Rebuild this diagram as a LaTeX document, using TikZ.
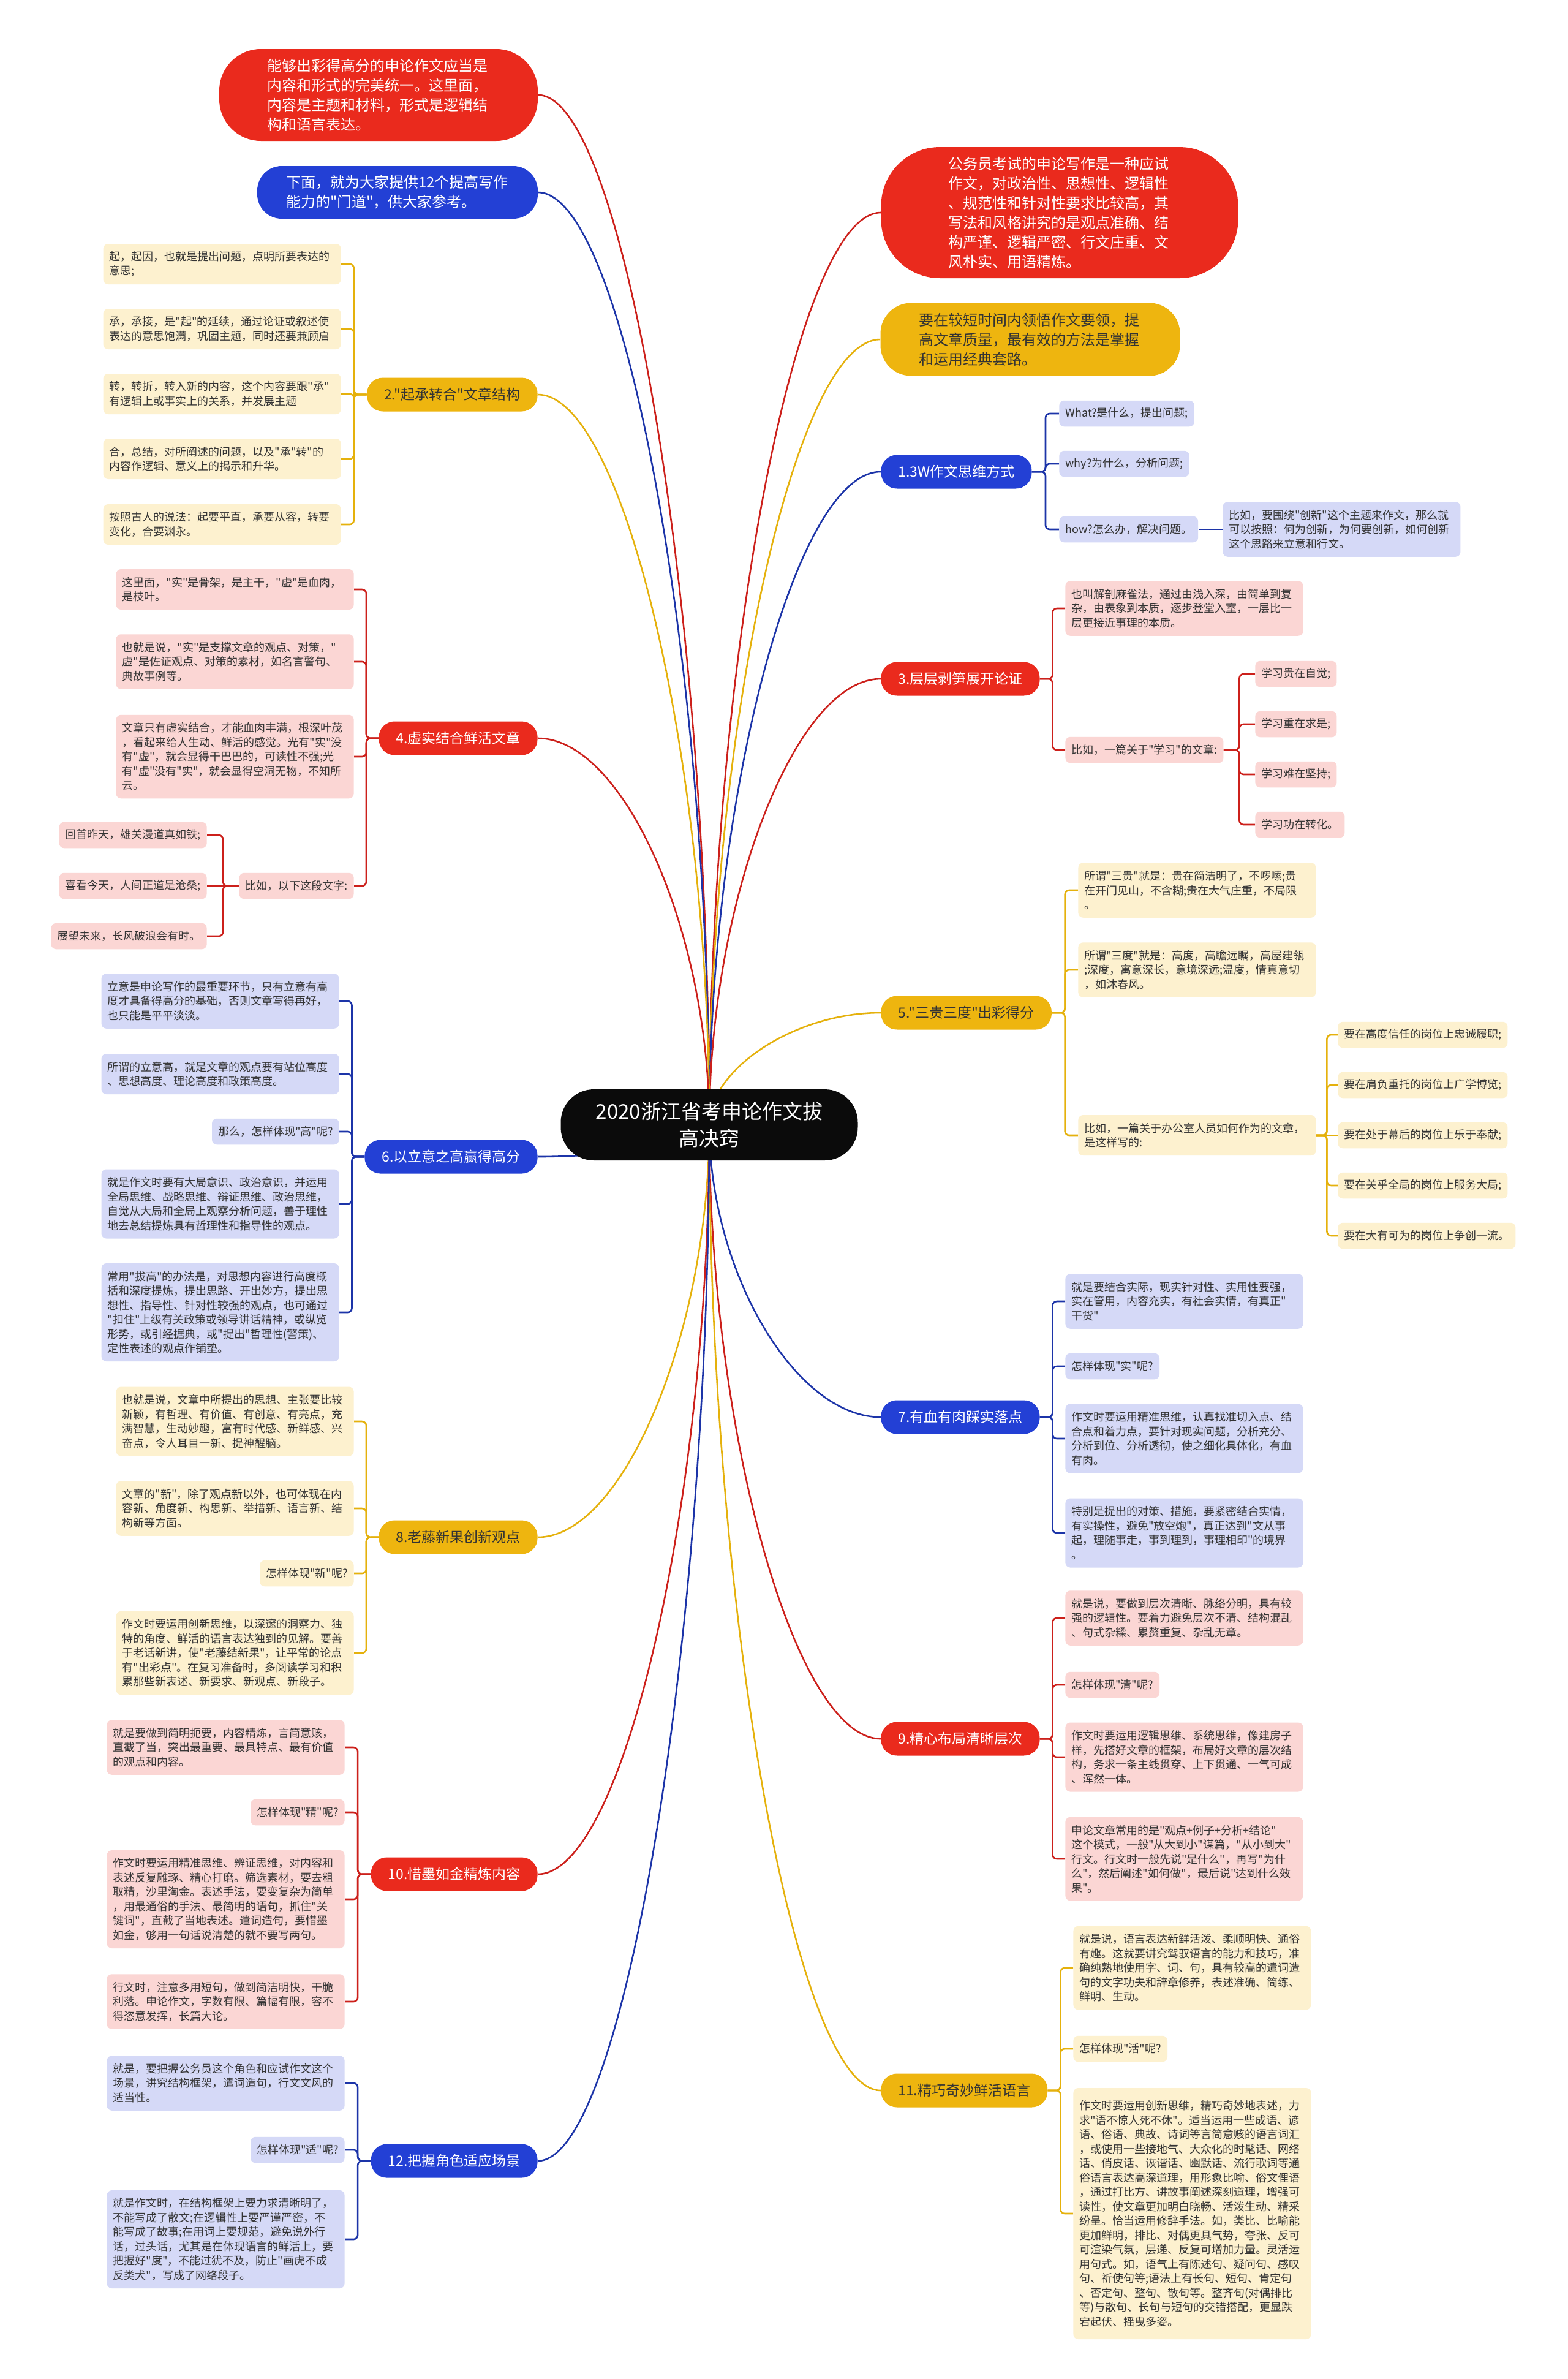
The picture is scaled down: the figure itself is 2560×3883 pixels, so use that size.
\documentclass[tikz,border=0pt]{standalone}
\usepackage{fontspec}
\setmainfont{Noto Sans CJK SC}[Ligatures=TeXOff]
\usetikzlibrary{calc}
\definecolor{redB}{HTML}{EA2A1D}
\definecolor{redL}{HTML}{FBD6D4}
\definecolor{redLn}{HTML}{CC201B}
\definecolor{blueB}{HTML}{2340D5}
\definecolor{blueL}{HTML}{D5D9F7}
\definecolor{blueLn}{HTML}{1C34A8}
\definecolor{yelB}{HTML}{EEB50F}
\definecolor{yelL}{HTML}{FDF1CF}
\definecolor{yelLn}{HTML}{E5B10C}
\definecolor{ctrB}{HTML}{0B0B0B}
\definecolor{txt}{HTML}{333333}
\pgfdeclarelayer{back}
\pgfdeclarelayer{bg}
\pgfsetlayers{back,bg,main}
\tikzset{
  leaf/.style={font=\fontsize{9}{11.75}\selectfont, text=txt, align=left, inner xsep=5pt, inner ysep=0pt, rounded corners=4pt, minimum height=21.25pt},
  wl/.style={text width=184pt},
  nl/.style={minimum height={9.5pt+11.75pt*#1}},
  rl/.style={leaf, fill=redL},
  bl/.style={leaf, fill=blueL},
  yl/.style={leaf, fill=yelL},
  branch/.style={font=\fontsize{11.5}{14}\selectfont, inner xsep=14pt, inner ysep=0pt, minimum height=27.5pt, rounded corners=13pt},
  rb/.style={branch, fill=redB, text=white},
  bb/.style={branch, fill=blueB, text=white},
  yb/.style={branch, fill=yelB, text=txt},
  topn/.style={font=\fontsize{12}{16}\selectfont, align=left, text width=182pt, inner sep=0pt},
  rline/.style={draw=redLn, line width=1.3pt, rounded corners=3.5pt},
  bline/.style={draw=blueLn, line width=1.3pt, rounded corners=3.5pt},
  yline/.style={draw=yelLn, line width=1.3pt, rounded corners=3.5pt}
}
\newcommand\mlink[3]{\draw[#1] (ctr.center) .. controls ($(ctr.center)!0.5!(ctr.center |- #2.#3)$) and ($(#2.#3)!0.5!(ctr.center |- #2.#3)$) .. (#2.#3);}
\newcommand\rlink[3]{\draw[#1] (#2.east) -- ($(#2.east)!0.5!(#2.east -| #3.west)$) |- (#3.west);}
\newcommand\llink[3]{\draw[#1] (#2.west) -- ($(#2.west)!0.5!(#2.west -| #3.east)$) |- (#3.east);}
\begin{document}
\begin{tikzpicture}[x=0.5pt, y=-0.5pt]
\begin{pgfonlayer}{back}
\fill[white] (0,0) rectangle (2560,3883);
\end{pgfonlayer}
\useasboundingbox (0,0) rectangle (2560,3883);

% centre
\node[fill=ctrB, text=white, font=\fontsize{16.5}{22}\selectfont, align=center, minimum width=242.5pt, minimum height=58pt, rounded corners=27pt] (ctr) at (1158,1836) {2020浙江省考申论作文拔\\高决窍};

% top nodes
\node[topn, fill=redB, text=white, minimum width=260pt, minimum height=75pt, rounded corners=34pt] (na) at (618,155) {能够出彩得高分的申论作文应当是\\内容和形式的完美统一。这里面，\\内容是主题和材料，形式是逻辑结\\构和语言表达。};
\node[topn, fill=blueB, text=white, minimum width=229pt, minimum height=43pt, rounded corners=20pt] (nb) at (649,314) {下面，就为大家提供12个提高写作\\能力的"门道"，供大家参考。};
\node[topn, fill=redB, text=white, minimum width=291.5pt, minimum height=107pt, rounded corners=48pt] (nc) at (1730,347) {公务员考试的申论写作是一种应试\\作文，对政治性、思想性、逻辑性\\、规范性和针对性要求比较高，其\\写法和风格讲究的是观点准确、结\\构严谨、逻辑严密、行文庄重、文\\风朴实、用语精炼。};
\node[topn, fill=yelB, text=txt, minimum width=244.5pt, minimum height=59.5pt, rounded corners=25pt] (nd) at (1682,554) {要在较短时间内领悟作文要领，提\\高文章质量，最有效的方法是掌握\\和运用经典套路。};

% right branches
\node[bb, anchor=west] (b1) at (1438,770) {1.3W作文思维方式};
\node[rb, anchor=west] (b3) at (1438,1108) {3.层层剥笋展开论证};
\node[yb, anchor=west] (b5) at (1438,1653) {5."三贵三度"出彩得分};
\node[bb, anchor=west] (b7) at (1438,2313) {7.有血有肉踩实落点};
\node[rb, anchor=west] (b9) at (1438,2838) {9.精心布局清晰层次};
\node[yb, anchor=west] (b11) at (1438,3412) {11.精巧奇妙鲜活语言};
% left branches
\node[yb, anchor=east] (b2) at (878,644) {2."起承转合"文章结构};
\node[rb, anchor=east] (b4) at (878,1205) {4.虚实结合鲜活文章};
\node[bb, anchor=east] (b6) at (878,1888) {6.以立意之高赢得高分};
\node[yb, anchor=east] (b8) at (878,2509) {8.老藤新果创新观点};
\node[rb, anchor=east] (b10) at (878,3059) {10.惜墨如金精炼内容};
\node[bb, anchor=east] (b12) at (878,3527) {12.把握角色适应场景};

% b1 leaves
\node[bl, anchor=west] (l1a) at (1729,675) {What?是什么，提出问题;};
\node[bl, anchor=west] (l1b) at (1729,757) {why?为什么，分析问题;};
\node[bl, anchor=west] (l1c) at (1729,864) {how?怎么办，解决问题。};
\node[bl, wl, nl=3, anchor=west] (l1d) at (1996,864) {比如，要围绕"创新"这个主题来作文，那么就\\可以按照：何为创新，为何要创新，如何创新\\这个思路来立意和行文。};

% b3 leaves
\node[rl, wl, nl=3, anchor=west] (l3a) at (1739,993) {也叫解剖麻雀法，通过由浅入深，由简单到复\\杂，由表象到本质，逐步登堂入室，一层比一\\层更接近事理的本质。};
\node[rl, anchor=west] (l3b) at (1739,1224) {比如，一篇关于"学习"的文章:};
\node[rl, anchor=west] (l3k1) at (2049,1100) {学习贵在自觉;};
\node[rl, anchor=west] (l3k2) at (2049,1182) {学习重在求是;};
\node[rl, anchor=west] (l3k3) at (2049,1264) {学习难在坚持;};
\node[rl, anchor=west] (l3k4) at (2049,1346) {学习功在转化。};

% b5 leaves
\node[yl, wl, nl=3, anchor=west] (l5a) at (1760,1453) {所谓"三贵"就是：贵在简洁明了，不啰嗦;贵\\在开门见山，不含糊;贵在大气庄重，不局限\\。};
\node[yl, wl, nl=3, anchor=west] (l5b) at (1760,1583) {所谓"三度"就是：高度，高瞻远瞩，高屋建瓴\\;深度，寓意深长，意境深远;温度，情真意切\\，如沐春风。};
\node[yl, wl, nl=2, anchor=west] (l5c) at (1760,1853) {比如，一篇关于办公室人员如何作为的文章，\\是这样写的:};
\node[yl, anchor=west] (l5k1) at (2184,1689) {要在高度信任的岗位上忠诚履职;};
\node[yl, anchor=west] (l5k2) at (2184,1771) {要在肩负重托的岗位上广学博览;};
\node[yl, anchor=west] (l5k3) at (2184,1853) {要在处于幕后的岗位上乐于奉献;};
\node[yl, anchor=west] (l5k4) at (2184,1935) {要在关乎全局的岗位上服务大局;};
\node[yl, anchor=west] (l5k5) at (2184,2017) {要在大有可为的岗位上争创一流。};

% b7 leaves
\node[bl, wl, nl=3, anchor=west] (l7a) at (1739,2124) {就是要结合实际，现实针对性、实用性要强，\\实在管用，内容充实，有社会实情，有真正"\\干货"};
\node[bl, anchor=west] (l7b) at (1739,2230) {怎样体现"实"呢?};
\node[bl, wl, nl=4, anchor=west] (l7c) at (1739,2348) {作文时要运用精准思维，认真找准切入点、结\\合点和着力点，要针对现实问题，分析充分、\\分析到位、分析透彻，使之细化具体化，有血\\有肉。};
\node[bl, wl, nl=4, anchor=west] (l7d) at (1739,2502) {特别是提出的对策、措施，要紧密结合实情，\\有实操性，避免"放空炮"，真正达到"文从事\\起，理随事走，事到理到，事理相印"的境界\\。};

% b9 leaves
\node[rl, wl, nl=3, anchor=west] (l9a) at (1739,2641) {就是说，要做到层次清晰、脉络分明，具有较\\强的逻辑性。要着力避免层次不清、结构混乱\\、句式杂糅、累赘重复、杂乱无章。};
\node[rl, anchor=west] (l9b) at (1739,2750) {怎样体现"清"呢?};
\node[rl, wl, nl=4, anchor=west] (l9c) at (1739,2868) {作文时要运用逻辑思维、系统思维，像建房子\\样，先搭好文章的框架，布局好文章的层次结\\构，务求一条主线贯穿、上下贯通、一气可成\\、浑然一体。};
\node[rl, wl, nl=5, anchor=west] (l9d) at (1739,3034) {申论文章常用的是"观点+例子+分析+结论"\\这个模式，一般"从大到小"谋篇，"从小到大"\\行文。行文时一般先说"是什么"，再写"为什\\么"，然后阐述"如何做"，最后说"达到什么效\\果"。};

% b11 leaves
\node[yl, wl, nl=5, anchor=west] (l11a) at (1752,3212) {就是说，语言表达新鲜活泼、柔顺明快、通俗\\有趣。这就要讲究驾驭语言的能力和技巧，准\\确纯熟地使用字、词、句，具有较高的遣词造\\句的文字功夫和辞章修养，表述准确、简练、\\鲜明、生动。};
\node[yl, anchor=west] (l11b) at (1752,3344) {怎样体现"活"呢?};
\node[yl, wl, minimum height=205pt, anchor=west] (l11c) at (1752,3613) {作文时要运用创新思维，精巧奇妙地表述，力\\求"语不惊人死不休"。适当运用一些成语、谚\\语、俗语、典故、诗词等言简意赅的语言词汇\\，或使用一些接地气、大众化的时髦话、网络\\话、俏皮话、诙谐话、幽默话、流行歌词等通\\俗语言表达高深道理，用形象比喻、俗文俚语\\，通过打比方、讲故事阐述深刻道理，增强可\\读性，使文章更加明白晓畅、活泼生动、精采\\纷呈。恰当运用修辞手法。如，类比、比喻能\\更加鲜明，排比、对偶更具气势，夸张、反可\\可渲染气氛，层递、反复可增加力量。灵活运\\用句式。如，语气上有陈述句、疑问句、感叹\\句、祈使句等;语法上有长句、短句、肯定句\\、否定句、整句、散句等。整齐句(对偶排比\\等)与散句、长句与短句的交错搭配，更显跌\\宕起伏、摇曳多姿。};

% b2 leaves
\node[yl, wl, nl=2, anchor=east] (l2a) at (557,431) {起，起因，也就是提出问题，点明所要表达的\\意思;};
\node[yl, wl, nl=2, anchor=east] (l2b) at (557,537) {承，承接，是"起"的延续，通过论证或叙述使\\表达的意思饱满，巩固主题，同时还要兼顾启};
\node[yl, wl, nl=2, anchor=east] (l2c) at (557,643) {转，转折，转入新的内容，这个内容要跟"承"\\有逻辑上或事实上的关系，并发展主题};
\node[yl, wl, nl=2, anchor=east] (l2d) at (557,749) {合，总结，对所阐述的问题，以及"承"转"的\\内容作逻辑、意义上的揭示和升华。};
\node[yl, wl, nl=2, anchor=east] (l2e) at (557,856) {按照古人的说法：起要平直，承要从容，转要\\变化，合要渊永。};

% b4 leaves
\node[rl, wl, nl=2, anchor=east] (l4a) at (578,962) {这里面，"实"是骨架，是主干，"虚"是血肉，\\是枝叶。};
\node[rl, wl, nl=3, anchor=east] (l4b) at (578,1080) {也就是说，"实"是支撑文章的观点、对策，"\\虚"是佐证观点、对策的素材，如名言警句、\\典故事例等。};
\node[rl, wl, nl=5, anchor=east] (l4c) at (578,1235) {文章只有虚实结合，才能血肉丰满，根深叶茂\\，看起来给人生动、鲜活的感觉。光有"实"没\\有"虚"，就会显得干巴巴的，可读性不强;光\\有"虚"没有"实"，就会显得空洞无物，不知所\\云。};
\node[rl, anchor=east] (l4d) at (578,1446) {比如，以下这段文字:};
\node[rl, anchor=east] (l4k1) at (338,1363) {回首昨天，雄关漫道真如铁;};
\node[rl, anchor=east] (l4k2) at (338,1446) {喜看今天，人间正道是沧桑;};
\node[rl, anchor=east] (l4k3) at (338,1528) {展望未来，长风破浪会有时。};

% b6 leaves
\node[bl, wl, nl=3, anchor=east] (l6a) at (554,1634) {立意是申论写作的最重要环节，只有立意有高\\度才具备得高分的基础，否则文章写得再好，\\也只能是平平淡淡。};
\node[bl, wl, nl=2, anchor=east] (l6b) at (554,1753) {所谓的立意高，就是文章的观点要有站位高度\\、思想高度、理论高度和政策高度。};
\node[bl, anchor=east] (l6c) at (554,1847) {那么，怎样体现"高"呢?};
\node[bl, wl, nl=4, anchor=east] (l6d) at (554,1965) {就是作文时要有大局意识、政治意识，并运用\\全局思维、战略思维、辩证思维、政治思维，\\自觉从大局和全局上观察分析问题，善于理性\\地去总结提炼具有哲理性和指导性的观点。};
\node[bl, wl, nl=6, anchor=east] (l6e) at (554,2142) {常用"拔高"的办法是，对思想内容进行高度概\\括和深度提炼，提出思路、开出妙方，提出思\\想性、指导性、针对性较强的观点，也可通过\\"扣住"上级有关政策或领导讲话精神，或纵览\\形势，或引经据典，或"提出"哲理性(警策)、\\定性表述的观点作铺垫。};

% b8 leaves
\node[yl, wl, nl=4, anchor=east] (l8a) at (578,2320) {也就是说，文章中所提出的思想、主张要比较\\新颖，有哲理、有价值、有创意、有亮点，充\\满智慧，生动妙趣，富有时代感、新鲜感、兴\\奋点，令人耳目一新、提神醒脑。};
\node[yl, wl, nl=3, anchor=east] (l8b) at (578,2462) {文章的"新"，除了观点新以外，也可体现在内\\容新、角度新、构思新、举措新、语言新、结\\构新等方面。};
\node[yl, anchor=east] (l8c) at (578,2568) {怎样体现"新"呢?};
\node[yl, wl, nl=5, anchor=east] (l8d) at (578,2698) {作文时要运用创新思维，以深邃的洞察力、独\\特的角度、鲜活的语言表达独到的见解。要善\\于老话新讲，使"老藤结新果"，让平常的论点\\有"出彩点"。在复习准备时，多阅读学习和积\\累那些新表述、新要求、新观点、新段子。};

% b10 leaves
\node[rl, wl, nl=3, anchor=east] (l10a) at (563,2852) {就是要做到简明扼要，内容精炼，言简意赅，\\直截了当，突出最重要、最具特点、最有价值\\的观点和内容。};
\node[rl, anchor=east] (l10b) at (563,2958) {怎样体现"精"呢?};
\node[rl, wl, nl=6, anchor=east] (l10c) at (563,3100) {作文时要运用精准思维、辨证思维，对内容和\\表述反复雕琢、精心打磨。筛选素材，要去粗\\取精，沙里淘金。表述手法，要变复杂为简单\\，用最通俗的手法、最简明的语句，抓住"关\\键词"，直截了当地表述。遣词造句，要惜墨\\如金，够用一句话说清楚的就不要写两句。};
\node[rl, wl, nl=3, anchor=east] (l10d) at (563,3267) {行文时，注意多用短句，做到简洁明快，干脆\\利落。申论作文，字数有限、篇幅有限，容不\\得恣意发挥，长篇大论。};

% b12 leaves
\node[bl, wl, nl=3, anchor=east] (l12a) at (563,3400) {就是，要把握公务员这个角色和应试作文这个\\场景，讲究结构框架，遣词造句，行文文风的\\适当性。};
\node[bl, anchor=east] (l12b) at (563,3509) {怎样体现"适"呢?};
\node[bl, wl, nl=6, anchor=east] (l12c) at (563,3655) {就是作文时，在结构框架上要力求清晰明了，\\不能写成了散文;在逻辑性上要严谨严密，不\\能写成了故事;在用词上要规范，避免说外行\\话，过头话，尤其是在体现语言的鲜活上，要\\把握好"度"，不能过犹不及，防止"画虎不成\\反类犬"，写成了网络段子。};

\begin{pgfonlayer}{bg}
% main connectors
\mlink{rline}{na}{east}
\mlink{bline}{nb}{east}
\mlink{rline}{nc}{west}
\mlink{yline}{nd}{west}
\mlink{bline}{b1}{west}
\mlink{rline}{b3}{west}
\mlink{yline}{b5}{west}
\mlink{bline}{b7}{west}
\mlink{rline}{b9}{west}
\mlink{yline}{b11}{west}
\mlink{yline}{b2}{east}
\mlink{rline}{b4}{east}
\mlink{bline}{b6}{east}
\mlink{yline}{b8}{east}
\mlink{rline}{b10}{east}
\mlink{bline}{b12}{east}
% right leaves
\rlink{bline}{b1}{l1a}
\rlink{bline}{b1}{l1b}
\rlink{bline}{b1}{l1c}
\draw[bline] (l1c.east) -- (l1d.west);
\rlink{rline}{b3}{l3a}
\rlink{rline}{b3}{l3b}
\rlink{rline}{l3b}{l3k1}
\rlink{rline}{l3b}{l3k2}
\rlink{rline}{l3b}{l3k3}
\rlink{rline}{l3b}{l3k4}
\rlink{yline}{b5}{l5a}
\rlink{yline}{b5}{l5b}
\rlink{yline}{b5}{l5c}
\rlink{yline}{l5c}{l5k1}
\rlink{yline}{l5c}{l5k2}
\draw[yline] (l5c.east) -- (l5k3.west);
\rlink{yline}{l5c}{l5k4}
\rlink{yline}{l5c}{l5k5}
\rlink{bline}{b7}{l7a}
\rlink{bline}{b7}{l7b}
\rlink{bline}{b7}{l7c}
\rlink{bline}{b7}{l7d}
\rlink{rline}{b9}{l9a}
\rlink{rline}{b9}{l9b}
\rlink{rline}{b9}{l9c}
\rlink{rline}{b9}{l9d}
\rlink{yline}{b11}{l11a}
\rlink{yline}{b11}{l11b}
\rlink{yline}{b11}{l11c}
% left leaves
\llink{yline}{b2}{l2a}
\llink{yline}{b2}{l2b}
\llink{yline}{b2}{l2c}
\llink{yline}{b2}{l2d}
\llink{yline}{b2}{l2e}
\llink{rline}{b4}{l4a}
\llink{rline}{b4}{l4b}
\llink{rline}{b4}{l4c}
\llink{rline}{b4}{l4d}
\llink{rline}{l4d}{l4k1}
\draw[rline] (l4d.west) -- (l4k2.east);
\llink{rline}{l4d}{l4k3}
\llink{bline}{b6}{l6a}
\llink{bline}{b6}{l6b}
\llink{bline}{b6}{l6c}
\llink{bline}{b6}{l6d}
\llink{bline}{b6}{l6e}
\llink{yline}{b8}{l8a}
\llink{yline}{b8}{l8b}
\llink{yline}{b8}{l8c}
\llink{yline}{b8}{l8d}
\llink{rline}{b10}{l10a}
\llink{rline}{b10}{l10b}
\llink{rline}{b10}{l10c}
\llink{rline}{b10}{l10d}
\llink{bline}{b12}{l12a}
\llink{bline}{b12}{l12b}
\llink{bline}{b12}{l12c}
\end{pgfonlayer}
\end{tikzpicture}
\end{document}
